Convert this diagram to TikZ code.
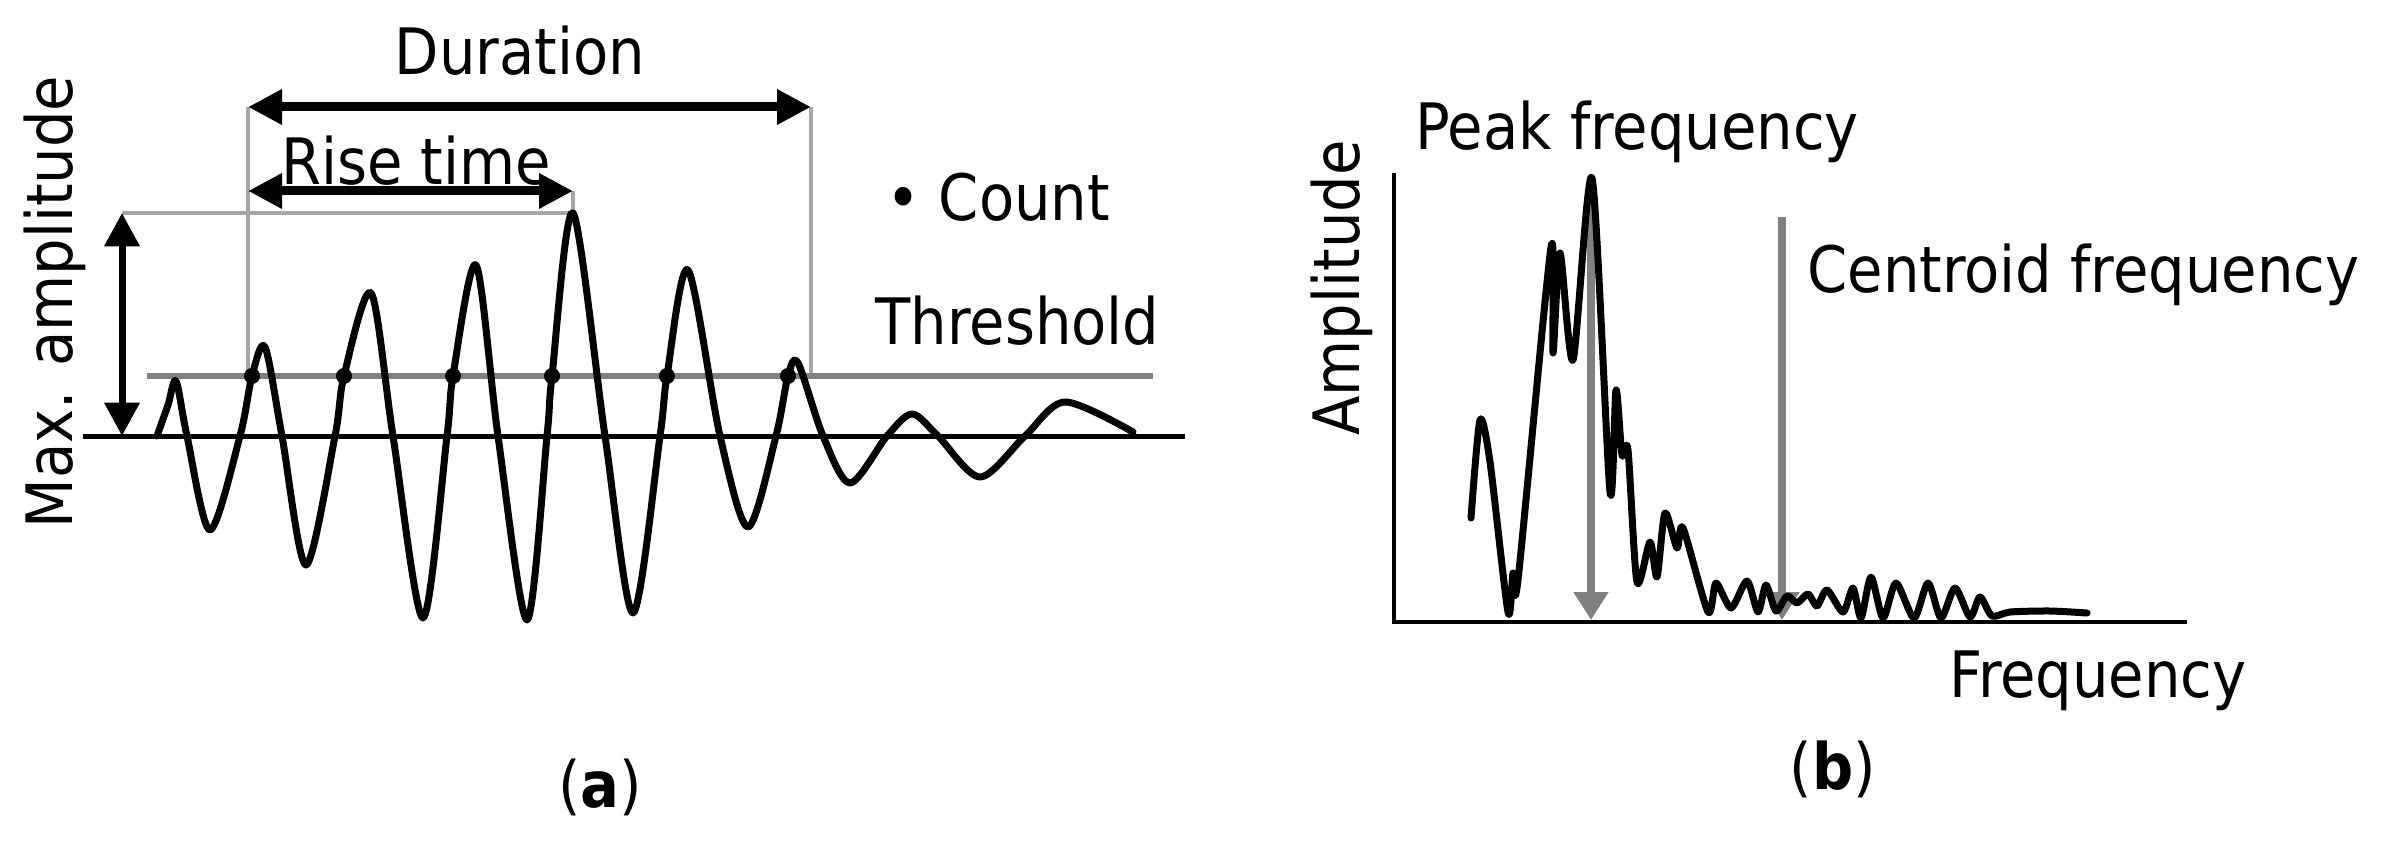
\documentclass[tikz,border=0pt]{standalone}
\usepackage{fontspec}
\setmainfont{DejaVu Sans Condensed}
\usetikzlibrary{arrows.meta}
\definecolor{lgray}{HTML}{A6A6A6}
\definecolor{dgray}{HTML}{808080}
\begin{document}
\begin{tikzpicture}[x=0.3pt,y=-0.3pt,
  lbl/.style={inner sep=0pt, font=\fontsize{19.2}{23}\selectfont},
  wave/.style={line width=2.1pt, line join=round, line cap=round},
  guide/.style={draw=lgray, line width=1.2pt},
  thr/.style={draw=dgray, line width=1.8pt},
  axisline/.style={line width=1.5pt},
  dimarrow/.style={line width=2.7pt,
    {Triangle[length=10.2pt,width=10pt]}-{Triangle[length=10.2pt,width=10pt]}},
  amparrow/.style={line width=2.1pt,
    {Triangle[length=10pt,width=10.2pt]}-{Triangle[length=10pt,width=10.2pt]}},
  freqarrow/.style={draw=dgray, line width=2.4pt,
    -{Triangle[length=8.4pt,width=10pt]}},
  dot/.style={fill=black}
]
\useasboundingbox (0,0) rectangle (2389,849);

% ---------- panel (a) ----------
\coordinate (b0) at (83,436);   \coordinate (b1) at (1185,436);
\coordinate (t0) at (147,376);  \coordinate (t1) at (1153,376);
\coordinate (m0) at (122,213);  \coordinate (m1) at (573,213);
\coordinate (ma) at (122,436);
\coordinate (d0) at (248,107);  \coordinate (d1) at (811,107);
\coordinate (dl) at (248,376);  \coordinate (dr) at (811,376);
\coordinate (r0) at (248,191);  \coordinate (r1) at (573,191);

\coordinate (c1) at (252,376);
\coordinate (c2) at (344,376);
\coordinate (c3) at (453,376);
\coordinate (c4) at (552,376);
\coordinate (c5) at (667,376);
\coordinate (c6) at (788,376);

\draw[guide] (m0) -- (m1) -- (r1);
\draw[guide] (d0) -- (dl);
\draw[guide] (d1) -- (dr);
\draw[thr] (t0) -- (t1);
\draw[axisline] (b0) -- (b1);

\draw[wave] plot[smooth, tension=0.5] coordinates {
  (157,436) (168,405) (176,381) (187,436) (210,530) (240,436) (252,376) (265,347)
  (282,436) (306,565) (335,436) (344,376) (371,293) (393,436) (423,618)
  (447,436) (453,376) (476,265) (498,436) (527,620) (547,436) (552,376)
  (573,213) (605,436) (633,613) (660,436) (667,376) (688,270) (720,436)
  (748,527) (776,436) (788,376) (798,363) (823,436) (850,483) (887,436)
  (912,414) (938,436) (980,477) (1025,436) (1065,402) (1133,432)};

\foreach \c in {c1,c2,c3,c4,c5,c6} \fill[dot] (\c) circle[radius=2.4pt];

\draw[dimarrow] (d0) -- (d1);
\draw[dimarrow] (r0) -- (r1);
\draw[amparrow] (m0) -- (ma);

\node[lbl, anchor=base] (dur) at (520,75) {Duration};
\node[lbl, anchor=base] (rise) at (416,185) {Rise time};
\node[lbl, anchor=base west] (cnt) at (886,221) {• Count};
\node[lbl, anchor=base west] (thrl) at (875,344) {Threshold};
\node[lbl, anchor=base, rotate=90] (maxa) at (72,302) {Max. amplitude};
\node[lbl, anchor=base] (la) at (600,807) {(\textbf{a})};

% ---------- panel (b) ----------
\coordinate (yax) at (1394,173); \coordinate (org) at (1394,622);
\coordinate (xax) at (2187,622);
\coordinate (pk0) at (1591,195); \coordinate (pk1) at (1591,620);
\coordinate (ce0) at (1782,217); \coordinate (ce1) at (1782,620);

\draw[freqarrow] (pk0) -- (pk1);
\draw[freqarrow] (ce0) -- (ce1);

\draw[wave] plot[smooth, tension=0.45] coordinates {
  (1471,518) (1480,420) (1490,462) (1508,612) (1513,573) (1518,580)
  (1551,247) (1553,353) (1560,253) (1573,360) (1592,178) (1610,492)
  (1616,390) (1622,455) (1628,450) (1637,582) (1650,542) (1657,577)
  (1665,513) (1677,548) (1683,528) (1708,612) (1716,583) (1731,608)
  (1747,581) (1758,612) (1766,585) (1776,611) (1787,596) (1797,603)
  (1808,594) (1817,606) (1827,590) (1843,612) (1853,588) (1861,618)
  (1871,577) (1883,618) (1896,583) (1914,618) (1928,583) (1941,618)
  (1955,588) (1970,617) (1980,597) (1992,616) (2010,612) (2050,611)
  (2087,613)};

\draw[line width=1.4pt] (yax) -- (org) -- (xax);

\node[lbl, anchor=base] (pkl) at (1637,150) {Peak frequency};
\node[lbl, anchor=base west] (cel) at (1807,292) {Centroid frequency};
\node[lbl, anchor=base, rotate=90] (ampl) at (1359,288) {Amplitude};
\node[lbl, anchor=base west] (frl) at (1949,697) {Frequency};
\node[lbl, anchor=base] (lb) at (1833,789) {(\textbf{b})};
\end{tikzpicture}
\end{document}
